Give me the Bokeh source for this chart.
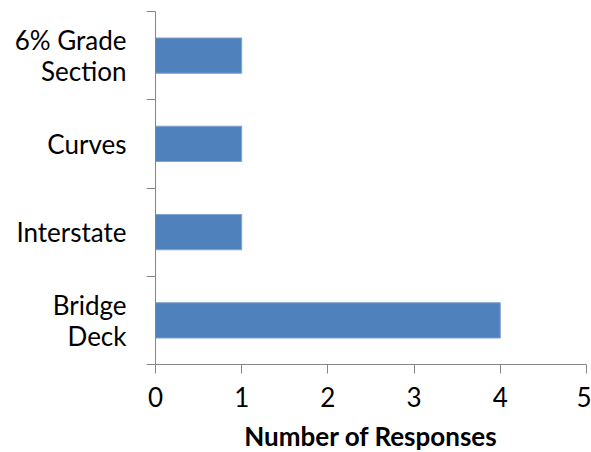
from bokeh.plotting import figure
from bokeh.models import FixedTicker, Range1d, ColumnDataSource
from bokeh.embed import file_html
from bokeh.resources import INLINE
import numpy as np

categories = ["Bridge\nDeck", "Interstate", "Curves", "6% Grade\nSection"]
responses = [4, 1, 1, 1]
x_ticks = [0, 1, 2, 3, 4, 5]

n = len(categories)
centers = list(np.arange(n) + 0.5)
bounds = list(range(n + 1))

FONT = "Lato"
AXIS_COLOR = "#868686"

p = figure(width=591, height=452, output_backend="svg", toolbar_location=None,
           x_range=Range1d(0, 5), y_range=Range1d(0, n),
           min_border_left=155, min_border_right=5, min_border_top=11, min_border_bottom=0)
p.frame_width = 431
p.frame_height = 353
p.outline_line_color = None
p.xgrid.visible = False
p.ygrid.visible = False
p.background_fill_color = "white"
p.border_fill_color = "white"

src = ColumnDataSource(dict(y=centers, v=responses))
p.hbar(y="y", right="v", left=0, height=0.4, source=src,
       fill_color="#4F81BD", line_color="#7FA3D0", line_width=1)

xa = p.xaxis[0]
xa.ticker = FixedTicker(ticks=x_ticks)
xa.axis_line_color = AXIS_COLOR
xa.major_tick_line_color = AXIS_COLOR
xa.major_tick_out = 9
xa.major_tick_in = 0
xa.minor_tick_line_color = None
xa.major_label_text_font = FONT
xa.major_label_text_font_size = "26px"
xa.major_label_text_color = "black"
xa.major_label_standoff = 13
xa.axis_label = "Number of Responses"
xa.axis_label_text_font = FONT
xa.axis_label_text_font_style = "bold"
xa.axis_label_text_font_size = "26px"
xa.axis_label_text_color = "black"
xa.axis_label_standoff = 10

ya = p.yaxis[0]
ya.ticker = FixedTicker(ticks=centers, minor_ticks=bounds)
ya.major_label_overrides = {float(c): lab for c, lab in zip(centers, categories)}
ya.axis_line_color = AXIS_COLOR
ya.major_tick_line_color = None
ya.major_tick_out = 0
ya.major_tick_in = 0
ya.minor_tick_line_color = AXIS_COLOR
ya.minor_tick_out = 9
ya.minor_tick_in = 0
ya.major_label_text_font = FONT
ya.major_label_text_font_size = "26px"
ya.major_label_text_color = "black"
ya.major_label_text_line_height = 0.95
ya.major_label_text_align = "center"
ya.major_label_standoff = 20

open("out.html", "w").write(file_html(p, INLINE))
